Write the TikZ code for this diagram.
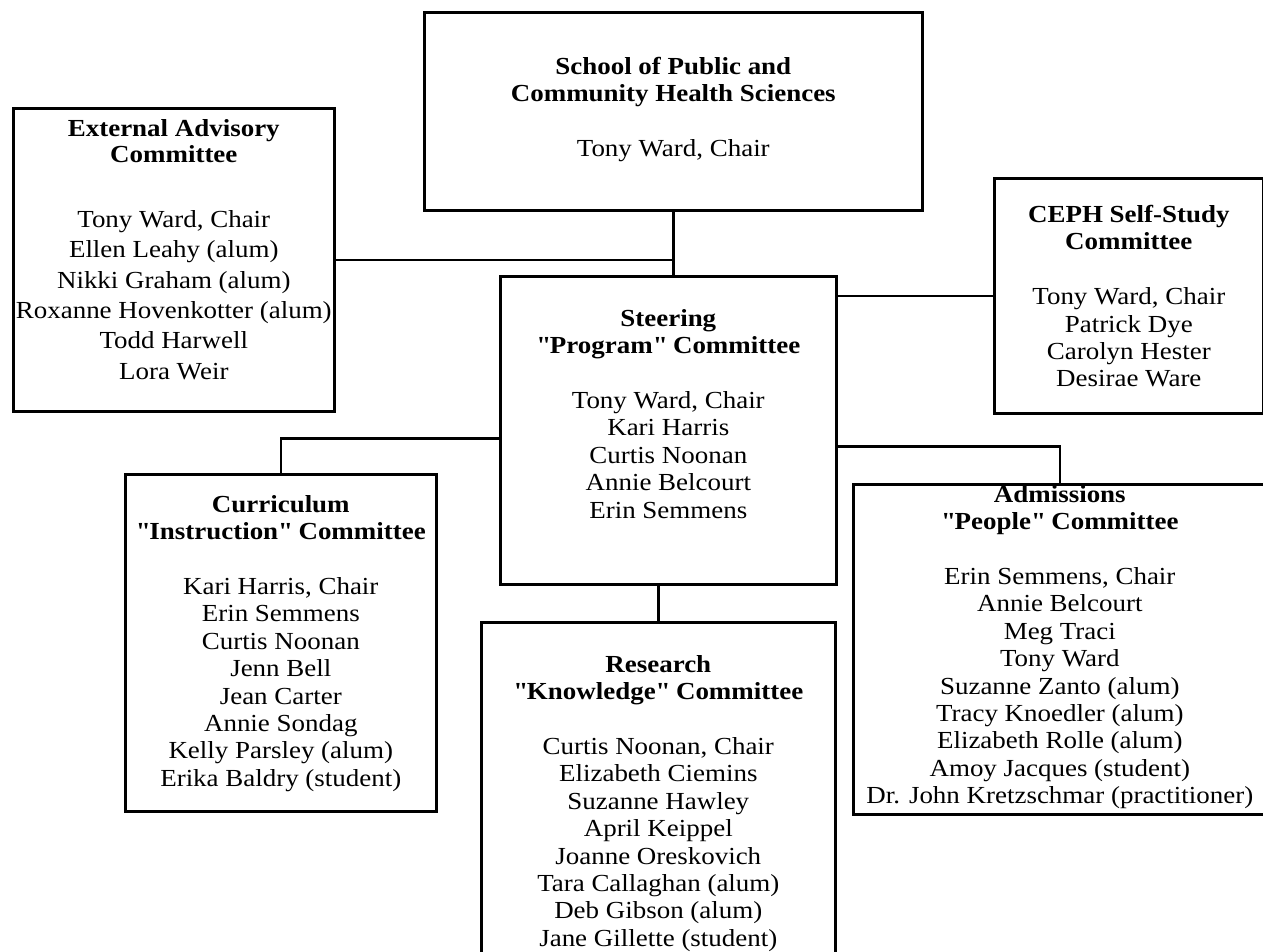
\documentclass[tikz,border=0pt]{standalone}
\usepackage{fontspec}
\setmainfont{Liberation Serif}[FakeStretch=1.1]
\newcommand{\qd}[1]{\textquotedbl#1\textquotedbl}
\begin{document}
\begin{tikzpicture}[x=1pt, y=-1pt, line width=2.6pt,
        committee/.style = {draw,
            anchor=north west,
            inner sep=0pt
            },
        members/.style = {anchor=north,
            align=center,
            inner sep=0pt,
            font=\fontsize{24.5pt}{27.4pt}\selectfont
            }]

    \useasboundingbox (0,0) rectangle (1263,951);

    % School
    \node[committee, minimum width=498, minimum height=198,
        label={[members, yshift=-45]north:{\textbf{School of Public and}\\\textbf{Community Health Sciences}\\[27.4pt]Tony Ward, Chair}}]
        (school) at (423,11) {};

    % External advisory
    \node[committee, minimum width=321, minimum height=303,
        label={[members, font=\fontsize{24.5pt}{30.4pt}\selectfont, yshift=-11]north:{\textbf{External Advisory}\\[-4.4pt]\textbf{Committee}\\[34.6pt]Tony Ward, Chair\\Ellen Leahy (alum)\\Nikki Graham (alum)\\Roxanne Hovenkotter (alum)\\Todd Harwell\\Lora Weir}}]
        (external) at (12,107) {};

    % CEPH self-study
    \node[committee, minimum width=269, minimum height=235,
        label={[members, yshift=-27]north:{\textbf{CEPH Self-Study}\\\textbf{Committee}\\[27.4pt]Tony Ward, Chair\\Patrick Dye\\Carolyn Hester\\Desirae Ware}}]
        (ceph) at (993,177) {};

    % Steering
    \node[committee, minimum width=336, minimum height=308,
        label={[members, yshift=-33]north:{\textbf{Steering}\\\textbf{\qd{Program} Committee}\\[27.4pt]Tony Ward, Chair\\Kari Harris\\Curtis Noonan\\Annie Belcourt\\Erin Semmens}}]
        (steering) at (499,275) {};

    % Curriculum
    \node[committee, minimum width=311, minimum height=337,
        label={[members, yshift=-21]north:{\textbf{Curriculum}\\\textbf{\qd{Instruction} Committee}\\[27.4pt]Kari Harris, Chair\\Erin Semmens\\Curtis Noonan\\Jenn Bell\\Jean Carter\\Annie Sondag\\Kelly Parsley (alum)\\Erika Baldry (student)}}]
        (curriculum) at (124,473) {};

    % Research
    \node[committee, minimum width=354, minimum height=340,
        label={[members, yshift=-33]north:{\textbf{Research}\\\textbf{\qd{Knowledge} Committee}\\[27.4pt]Curtis Noonan, Chair\\Elizabeth Ciemins\\Suzanne Hawley\\April Keippel\\Joanne Oreskovich\\Tara Callaghan (alum)\\Deb Gibson (alum)\\Jane Gillette (student)}}]
        (research) at (480,621) {};

    % Admissions
    \node[committee, minimum width=413, minimum height=330,
        label={[members, yshift=-1]north:{\textbf{Admissions}\\\textbf{\qd{People} Committee}\\[27.4pt]Erin Semmens, Chair\\Annie Belcourt\\Meg Traci\\Tony Ward\\Suzanne Zanto (alum)\\Tracy Knoedler (alum)\\Elizabeth Rolle (alum)\\Amoy Jacques (student)\\Dr. John Kretzschmar (practitioner)}}]
        (admissions) at (852,483) {};

    % Connectors
    \draw (school.south) -- (school.south |- steering.north);
    \draw (external.east) -- (external.east -| school.south);
    \draw (ceph.west) -- (ceph.west -| steering.east);
    \draw (steering.west) ++(0,8) -| (curriculum.north);
    \draw (steering.east) ++(0,16) -| (admissions.north);
    \draw (research.north) -- (research.north |- steering.south);

\end{tikzpicture}
\end{document}
